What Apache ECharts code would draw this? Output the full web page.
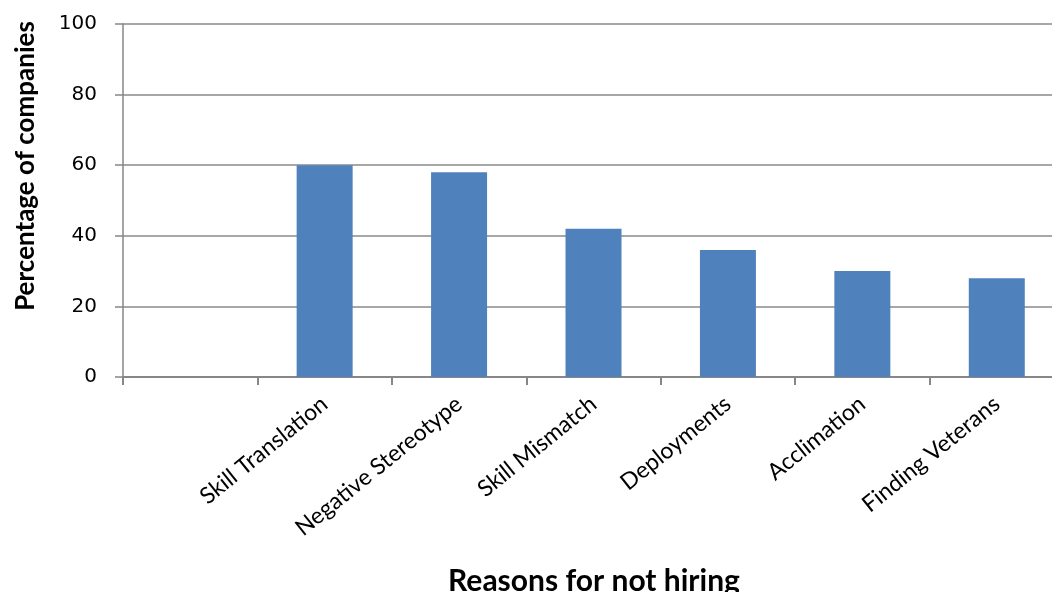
<!DOCTYPE html>
<html>
<head>
<meta charset="utf-8">
<script src="https://cdn.jsdelivr.net/npm/echarts@6/dist/echarts.min.js"></script>
<style>
html,body{margin:0;padding:0;background:#fff;overflow:hidden;width:1052px;height:592px;}
#chart{width:1064px;height:592px;}
</style>
</head>
<body>
<div id="chart"></div>
<script>
const categories = ["", "Skill Translation", "Negative Stereotype", "Skill Mismatch", "Deployments", "Acclimation", "Finding Veterans"];
const values = [null, 60, 58, 42, 36, 30, 28];
const yTitle = "Percentage of companies";
const xTitle = "Reasons for not hiring";

const chart = echarts.init(document.getElementById('chart'), null, {renderer: 'canvas'});
chart.setOption({
  animation: false,
  backgroundColor: '#ffffff',
  grid: {left: 123, right: 0, top: 24, bottom: 215, containLabel: false},
  xAxis: {
    type: 'category',
    data: categories,
    boundaryGap: true,
    axisLine: {show: true, lineStyle: {color: '#878787', width: 2}},
    axisTick: {show: true, length: 8, alignWithLabel: false, lineStyle: {color: '#878787', width: 2}},
    axisLabel: {interval: 0, rotate: 39, margin: 24, fontFamily: 'Lato', fontSize: 23, color: '#000'}
  },
  yAxis: {
    type: 'value',
    min: 0, max: 100, interval: 20,
    axisLine: {show: true, lineStyle: {color: '#878787', width: 1.5}},
    axisTick: {show: true, length: 8, lineStyle: {color: '#878787', width: 1.5}},
    axisLabel: {margin: 26, fontFamily: 'DejaVu Sans', fontSize: 20, color: '#000'},
    splitLine: {show: true, lineStyle: {color: '#8a8a8a', width: 1.5}}
  },
  series: [{
    type: 'bar',
    data: values,
    barWidth: 56,
    itemStyle: {color: '#4F81BD'}
  }],
  graphic: [
    {type: 'text', x: 26, y: 166, rotation: Math.PI / 2,
     style: {text: yTitle, fontFamily: 'Lato', fontWeight: 'bold', fontSize: 26, fill: '#000', align: 'center', verticalAlign: 'middle'}},
    {type: 'text', x: 594, y: 581,
     style: {text: xTitle, fontFamily: 'Lato', fontWeight: 'bold', fontSize: 30, fill: '#000', align: 'center', verticalAlign: 'middle'}}
  ]
});
</script>
</body>
</html>
